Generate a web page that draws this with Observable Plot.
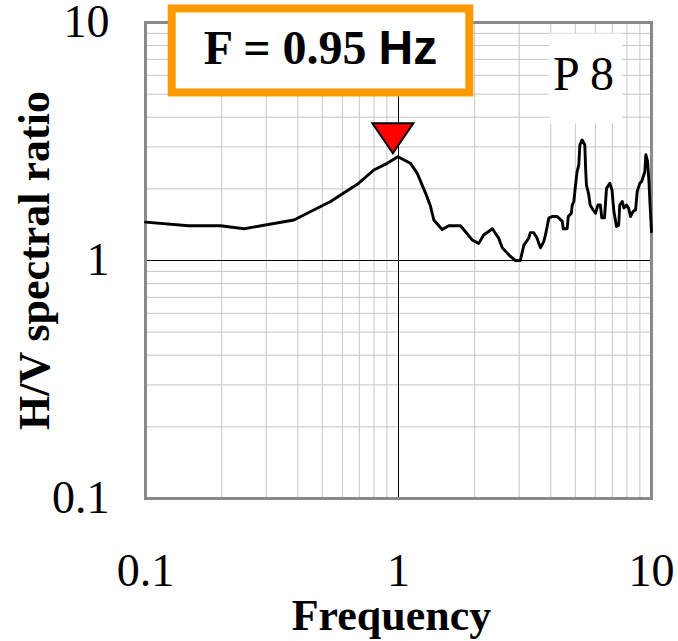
<!DOCTYPE html>
<html><head><meta charset="utf-8">
<script src="https://cdn.jsdelivr.net/npm/d3@7"></script>
<script src="https://cdn.jsdelivr.net/npm/@observablehq/plot@0.6"></script>
<style>body{margin:0;background:#fff} #chart{width:678px;height:641px}</style>
</head><body><div id="chart"></div>
<script>
// ---- data ----
const freq = [0.1, 0.148, 0.198, 0.245, 0.386, 0.539, 0.687, 0.799, 0.902, 0.994, 1.115, 1.185, 1.279, 1.338, 1.379, 1.488, 1.58, 1.758, 1.955, 2.076, 2.17, 2.35, 2.49, 2.57, 2.77, 2.90, 3.03, 3.13, 3.27, 3.32, 3.42, 3.53, 3.64, 3.75, 3.81, 3.93, 4.05, 4.24, 4.44, 4.48, 4.64, 4.69, 4.82, 4.86, 4.93, 5.01, 5.08, 5.16, 5.21, 5.32, 5.45, 5.49, 5.53, 5.65, 5.72, 5.88, 6.01, 6.14, 6.28, 6.36, 6.52, 6.64, 6.84, 6.98, 7.10, 7.27, 7.42, 7.49, 7.66, 7.78, 7.97, 8.12, 8.26, 8.47, 8.65, 8.78, 8.99, 9.15, 9.41, 9.5, 9.65, 9.77, 9.87, 10.0];
const ratio = [1.449, 1.40, 1.40, 1.36, 1.48, 1.77, 2.09, 2.40, 2.56, 2.73, 2.56, 2.33, 1.92, 1.69, 1.48, 1.35, 1.40, 1.40, 1.22, 1.18, 1.28, 1.36, 1.24, 1.13, 1.04, 1.0, 1.0, 1.16, 1.24, 1.31, 1.31, 1.24, 1.13, 1.20, 1.28, 1.51, 1.53, 1.53, 1.46, 1.36, 1.36, 1.53, 1.58, 1.71, 1.77, 2.08, 2.36, 2.52, 3.06, 3.21, 3.06, 2.44, 2.08, 1.89, 1.71, 1.63, 1.58, 1.71, 1.71, 1.51, 1.51, 2.01, 2.11, 1.98, 1.61, 1.39, 1.41, 1.71, 1.77, 1.66, 1.71, 1.66, 1.53, 1.61, 1.63, 1.95, 2.11, 2.15, 2.36, 2.78, 2.61, 2.15, 1.71, 1.32];
const peakFreq = [0.95];
const peakRatio = [2.82];
const xTicks = [0.1, 1, 10];
const xTickLabels = ["0.1", "1", "10"];
const yTicks = [0.1, 1, 10];
const yTickLabels = ["0.1", "1", "10"];
const gridSteps = [1, 2, 3, 4, 5, 6, 7, 8, 9];
const decades = [0.1, 1];
const annotation = ["F = 0.95", "Hz"];
const siteLabel = "P 8";
const xLabel = "Frequency";
const yLabel = "H/V spectral ratio";

// ---- derived ----
const gridValues = decades.flatMap(d => gridSteps.map(s => +(d * s).toPrecision(3))).concat([10]);
const curve = freq.map((f, i) => ({f, r: ratio[i]}));
const peaks = peakFreq.map((f, i) => ({f, r: peakRatio[i]}));
const downTriangle = {draw(ctx) { ctx.moveTo(-20.5, -30); ctx.lineTo(20.5, -30); ctx.lineTo(0, 0); ctx.closePath(); }};
const serif = "'Liberation Serif', 'Times New Roman', serif";
const sans = "'Liberation Sans', Arial, sans-serif";

const plot = Plot.plot({
  width: 678, height: 641,
  marginLeft: 145, marginRight: 27, marginTop: 22, marginBottom: 143,
  x: {type: "log", domain: [0.1, 10]},
  y: {type: "log", domain: [0.1, 10]},
  style: {fontFamily: serif, background: "white", color: "black"},
  marks: [
    Plot.gridX(gridValues, {stroke: "#c6c6c6", strokeOpacity: 1, strokeWidth: 1}),
    Plot.gridY(gridValues, {stroke: "#c6c6c6", strokeOpacity: 1, strokeWidth: 1}),
    Plot.text([siteLabel], {text: d => d, frameAnchor: "top-right", textAnchor: "middle", lineAnchor: "middle", dx: -68, dy: 52.6, fontSize: 48, fill: "black"}),
    Plot.ruleX([1], {stroke: "black", strokeWidth: 1}),
    Plot.ruleY([1], {stroke: "black", strokeWidth: 1}),
    Plot.frame({stroke: "#8a8a8a", strokeWidth: 3}),
    Plot.line(curve, {x: "f", y: "r", stroke: "black", strokeWidth: 2.9, strokeLinejoin: "round"}),
    Plot.dot(peaks, {x: "f", y: "r", symbol: downTriangle, r: 5, fill: "#ff0000", stroke: "black", strokeWidth: 2}),
    Plot.text([annotation.join(" ")], {text: d => d, frameAnchor: "top-left", textAnchor: "middle", lineAnchor: "middle", dx: 175, dy: 26.6, fontSize: 48, fontWeight: "bold", fill: "black"}),
    Plot.axisX(xTicks, {tickSize: 0, tickPadding: 55, fontSize: 46, tickFormat: d => xTickLabels[xTicks.indexOf(d)], label: null}),
    Plot.axisY(yTicks, {tickSize: 0, tickPadding: 36, fontSize: 46, tickFormat: d => yTickLabels[yTicks.indexOf(d)], label: null}),
    Plot.text([yLabel], {text: d => d, frameAnchor: "left", rotate: -90, textAnchor: "middle", lineAnchor: "middle", dx: -111, fontSize: 44, fontWeight: "bold", fill: "black"}),
    Plot.text([xLabel], {text: d => d, frameAnchor: "bottom", textAnchor: "middle", lineAnchor: "middle", dx: -7, dy: 117, fontSize: 44, fontWeight: "bold", fill: "black"})
  ]
});
document.getElementById("chart").appendChild(plot);

// ---- post-process: label backgrounds & mixed fonts ----
const svg = d3.select(plot);
function findText(str) {
  return svg.selectAll("text").filter(function() { return this.textContent === str; }).node();
}
function addBox(textNode, pad, fill, stroke, sw) {
  const bb = textNode.getBBox();
  const rect = document.createElementNS("http://www.w3.org/2000/svg", "rect");
  rect.setAttribute("x", bb.x - pad[3]);
  rect.setAttribute("y", bb.y - pad[0]);
  rect.setAttribute("width", bb.width + pad[1] + pad[3]);
  rect.setAttribute("height", bb.height + pad[0] + pad[2]);
  rect.setAttribute("fill", fill);
  rect.setAttribute("stroke", stroke);
  rect.setAttribute("stroke-width", sw);
  const tr = textNode.getAttribute("transform");
  if (tr) rect.setAttribute("transform", tr);
  textNode.parentNode.insertBefore(rect, textNode);
}
const pNode = findText(siteLabel);
if (pNode) addBox(pNode, [14, 8, 23, 4], "white", "none", 0);

const fNode = findText(annotation.join(" "));
if (fNode) {
  fNode.textContent = "";
  const sel = d3.select(fNode);
  sel.append("tspan").attr("font-family", serif).text(annotation[0] + " ");
  sel.append("tspan").attr("font-family", sans).text(annotation[1]);
  addBox(fNode, [13, 32, 18, 32], "white", "#ff9900", 8);
}
</script>
</body></html>
